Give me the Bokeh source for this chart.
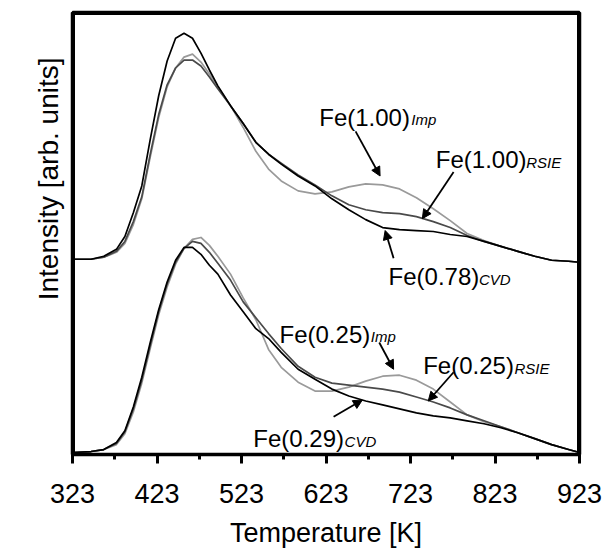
from bokeh.plotting import figure
from bokeh.models import Range1d, FixedTicker, Label, Arrow, NormalHead, LinearAxis, Title, Span
from bokeh.embed import file_html
from bokeh.resources import INLINE

# Temperature grid [K]
TEMP = [323, 345, 360, 375, 385, 395, 405, 415, 425, 435, 445, 455, 465, 475, 485,
        495, 510, 525, 540, 555, 570, 590, 610, 630, 650, 670, 690, 710, 730, 750,
        770, 790, 810, 830, 850, 870, 890, 910, 923]

# Upper set (high Fe loading), intensity above its own baseline [arb. units]
UP_CVD = [3, 3, 6, 13, 26, 50, 77, 124, 168, 203, 226, 231, 226, 211, 194, 178, 158, 140,
          121, 109, 99, 87, 77, 64, 53, 43, 35, 33, 32, 31, 28, 26, 21, 16, 11, 6, 2, 1, 0]
UP_RSIE = [3, 3, 5, 11, 21, 41, 66, 109, 149, 179, 196, 204, 204, 198, 187, 175, 158, 140,
           121, 109, 100, 88, 78, 67, 58, 53, 50, 49, 46, 41, 35, 27, 21, 16, 11, 6, 2, 1, 0]
UP_IMP = [3, 3, 5, 10, 19, 38, 64, 106, 146, 177, 196, 207, 210, 202, 190, 177, 158, 136,
          112, 94, 82, 72, 69, 71, 76, 79, 78, 74, 65, 54, 42, 29, 22, 16, 11, 6, 2, 1, 0]

# Lower set (low Fe loading)
LO_CVD = [2, 3, 5, 12, 24, 48, 78, 113, 146, 174, 196, 209, 209, 202, 191, 182, 161, 144,
          127, 117, 103, 86, 76, 66, 59, 54, 50, 46, 42, 39, 37, 34, 31, 27, 22, 16, 10, 5, 2]
LO_RSIE = [2, 3, 5, 11, 23, 46, 75, 110, 144, 172, 194, 208, 215, 213, 204, 193, 176, 154,
           138, 122, 107, 89, 78, 72, 70, 68, 66, 63, 58, 53, 47, 40, 34, 28, 22, 16, 10, 5, 2]
LO_IMP = [2, 3, 5, 10, 21, 43, 72, 107, 141, 169, 192, 208, 217, 219, 211, 200, 182, 158,
          136, 106, 88, 73, 64, 64, 68, 74, 79, 80, 75, 66, 53, 40, 33, 28, 22, 16, 10, 5, 2]

UPPER_OFFSET = 194

TICKS = [323, 423, 523, 623, 723, 823, 923]
MINOR = [373, 473, 573, 673, 773, 873]
X_MIN, X_MAX = 323, 923
Y_MIN, Y_MAX = 0, 446

FONT = "Liberation Sans"
BLACK = "#000000"
DARK = "#4a4a4a"
LIGHT = "#9a9a9a"

p = figure(width=605, height=550, output_backend="svg", toolbar_location=None,
           x_range=Range1d(X_MIN, X_MAX), y_range=Range1d(Y_MIN, Y_MAX),
           min_border_left=72, min_border_right=26, min_border_top=12, min_border_bottom=92)
p.background_fill_color = "white"
p.border_fill_color = "white"
p.grid.visible = False
p.outline_line_color = "black"
p.outline_line_width = 3

xa = p.below[0]
ya = p.left[0]


def frame_axis(ax):
    ax.ticker = FixedTicker(ticks=[])
    ax.axis_line_width = 3.5
    ax.axis_line_color = "black"
    ax.major_tick_out = 0
    ax.major_tick_in = 0
    ax.minor_tick_out = 0
    ax.minor_tick_in = 0
    ax.major_label_text_font_size = "0px"
    ax.major_label_standoff = 0
    ax.axis_label = None


frame_axis(ya)
right_ax = LinearAxis()
top_ax = LinearAxis()
frame_axis(right_ax)
frame_axis(top_ax)
p.add_layout(right_ax, "right")
p.add_layout(top_ax, "above")

# thick frame edges
for loc, dim in ((X_MIN, "height"), (X_MAX, "height"), (Y_MAX, "width")):
    p.add_layout(Span(location=loc, dimension=dim, line_color="black", line_width=5))

xa.ticker = FixedTicker(ticks=TICKS, minor_ticks=MINOR)
xa.axis_line_width = 3.5
xa.axis_line_color = "black"
xa.major_tick_in = 0
xa.major_tick_out = 9
xa.major_tick_line_width = 3
xa.minor_tick_in = 0
xa.minor_tick_out = 5
xa.minor_tick_line_width = 3
xa.major_label_text_font = FONT
xa.major_label_text_font_size = "27px"
xa.major_label_text_color = "black"
xa.major_label_standoff = 20
xa.axis_label = "Temperature [K]"
xa.axis_label_text_font = FONT
xa.axis_label_text_font_size = "27px"
xa.axis_label_text_font_style = "normal"
xa.axis_label_text_color = "black"
xa.axis_label_standoff = 12

# y axis title (intensity axis carries no ticks)
p.add_layout(Title(text="Intensity [arb. units]", align="right", offset=45, standoff=18,
                   text_font=FONT, text_font_size="28px", text_font_style="normal",
                   text_color="black"), "left")

up = ([v + UPPER_OFFSET for v in UP_IMP], [v + UPPER_OFFSET for v in UP_RSIE],
      [v + UPPER_OFFSET for v in UP_CVD])
for ys, col in zip(up, (LIGHT, DARK, BLACK)):
    p.line(TEMP, ys, line_color=col, line_width=1.7, line_join="round")
for ys, col in zip((LO_IMP, LO_RSIE, LO_CVD), (LIGHT, DARK, BLACK)):
    p.line(TEMP, ys, line_color=col, line_width=1.7, line_join="round")

# annotations: (main text, subscript, main x, main y, sub x, sub y)
ANN = [
    ("Fe(1.00)", "Imp", 615, 340, 724, 338),
    ("Fe(1.00)", "RSIE", 753, 298, 860, 295),
    ("Fe(0.78)", "CVD", 697, 180, 804, 177),
    ("Fe(0.25)", "Imp", 568, 121, 676, 119),
    ("Fe(0.25)", "RSIE", 738, 90, 846, 87),
    ("Fe(0.29)", "CVD", 537, 16, 645, 13),
]
for main, sub, mx, my, sx, sy in ANN:
    p.add_layout(Label(x=mx, y=my, text=main, text_align="left", text_baseline="alphabetic",
                       text_font=FONT, text_font_size="24px", text_color="black"))
    p.add_layout(Label(x=sx, y=sy, text=sub, text_align="left", text_baseline="alphabetic",
                       text_font=FONT, text_font_size="15px", text_font_style="italic",
                       text_color="black"))

# arrows: (x_start, y_start, x_end, y_end)
ARROWS = [
    (658, 326, 687, 281),
    (774, 285, 737, 238),
    (703, 198, 693, 226),
    (686, 113, 703, 86),
    (774, 83, 744, 54),
    (632, 38, 666, 55),
]
for xs, ys, xe, ye in ARROWS:
    p.add_layout(Arrow(x_start=xs, y_start=ys, x_end=xe, y_end=ye, line_width=1.8,
                       line_color="black",
                       end=NormalHead(size=9, fill_color="black", line_color="black", line_width=1)))

open("out.html", "w").write(file_html(p, INLINE))
